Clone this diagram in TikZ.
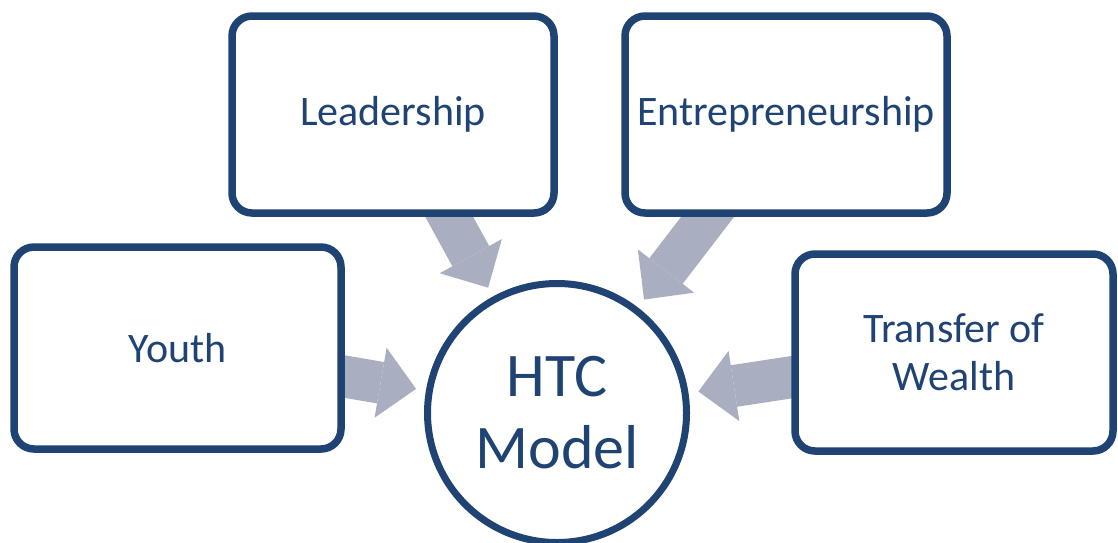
\documentclass[tikz,border=0pt]{standalone}
\usepackage{fontspec}
\setmainfont{Carlito}
\usetikzlibrary{arrows.meta}
\usetikzlibrary{shadows}
\usetikzlibrary{backgrounds}
\definecolor{htcblue}{HTML}{1F4373}
\definecolor{arrowgray}{HTML}{A9AFC0}
\tikzstyle{pillarbox}=[draw=htcblue,line width=7.5pt,fill=white,rounded corners=20pt,minimum width=322pt,minimum height=197pt,inner sep=0pt,align=center,text=htcblue,font=\fontsize{42}{48}\selectfont,drop shadow={opacity=0.18,shadow xshift=2pt,shadow yshift=-3pt}]
\tikzstyle{modelcircle}=[circle,draw=htcblue,line width=7pt,fill=white,minimum size=259pt,inner sep=0pt,align=center,text=htcblue,font=\fontsize{62}{72}\selectfont,drop shadow={opacity=0.18,shadow xshift=2pt,shadow yshift=-3pt}]
\tikzstyle{feedarrow}=[arrowgray,line width=42pt,-{Triangle[length=36pt,width=71pt,line width=0pt]},shorten >=10pt,shorten <=-20pt]
\begin{document}
\begin{tikzpicture}[x=1pt,y=-1pt]
	\useasboundingbox (0,0) rectangle (1118,542);
	% the four pillars round the model
	\node[pillarbox] (lead) at (393,114.5) {Leadership};
	\node[pillarbox] (entr) at (786,114.5) {Entrepreneurship};
	\node[pillarbox,minimum width=327pt,minimum height=202pt] (youth) at (177.5,348) {Youth};
	\node[pillarbox,minimum width=318pt] (wealth) at (954,352.5) {Transfer of\\Wealth};
	\node[modelcircle] (htc) at (557,413) {HTC\\Model};
	% block arrows, behind the boxes
	\begin{scope}[on background layer]
		\draw[feedarrow] (lead) -- (htc);
		\draw[feedarrow] (entr) -- (htc);
		\draw[feedarrow] (youth) -- (htc);
		\draw[feedarrow] (wealth) -- (htc);
	\end{scope}
\end{tikzpicture}
\end{document}
